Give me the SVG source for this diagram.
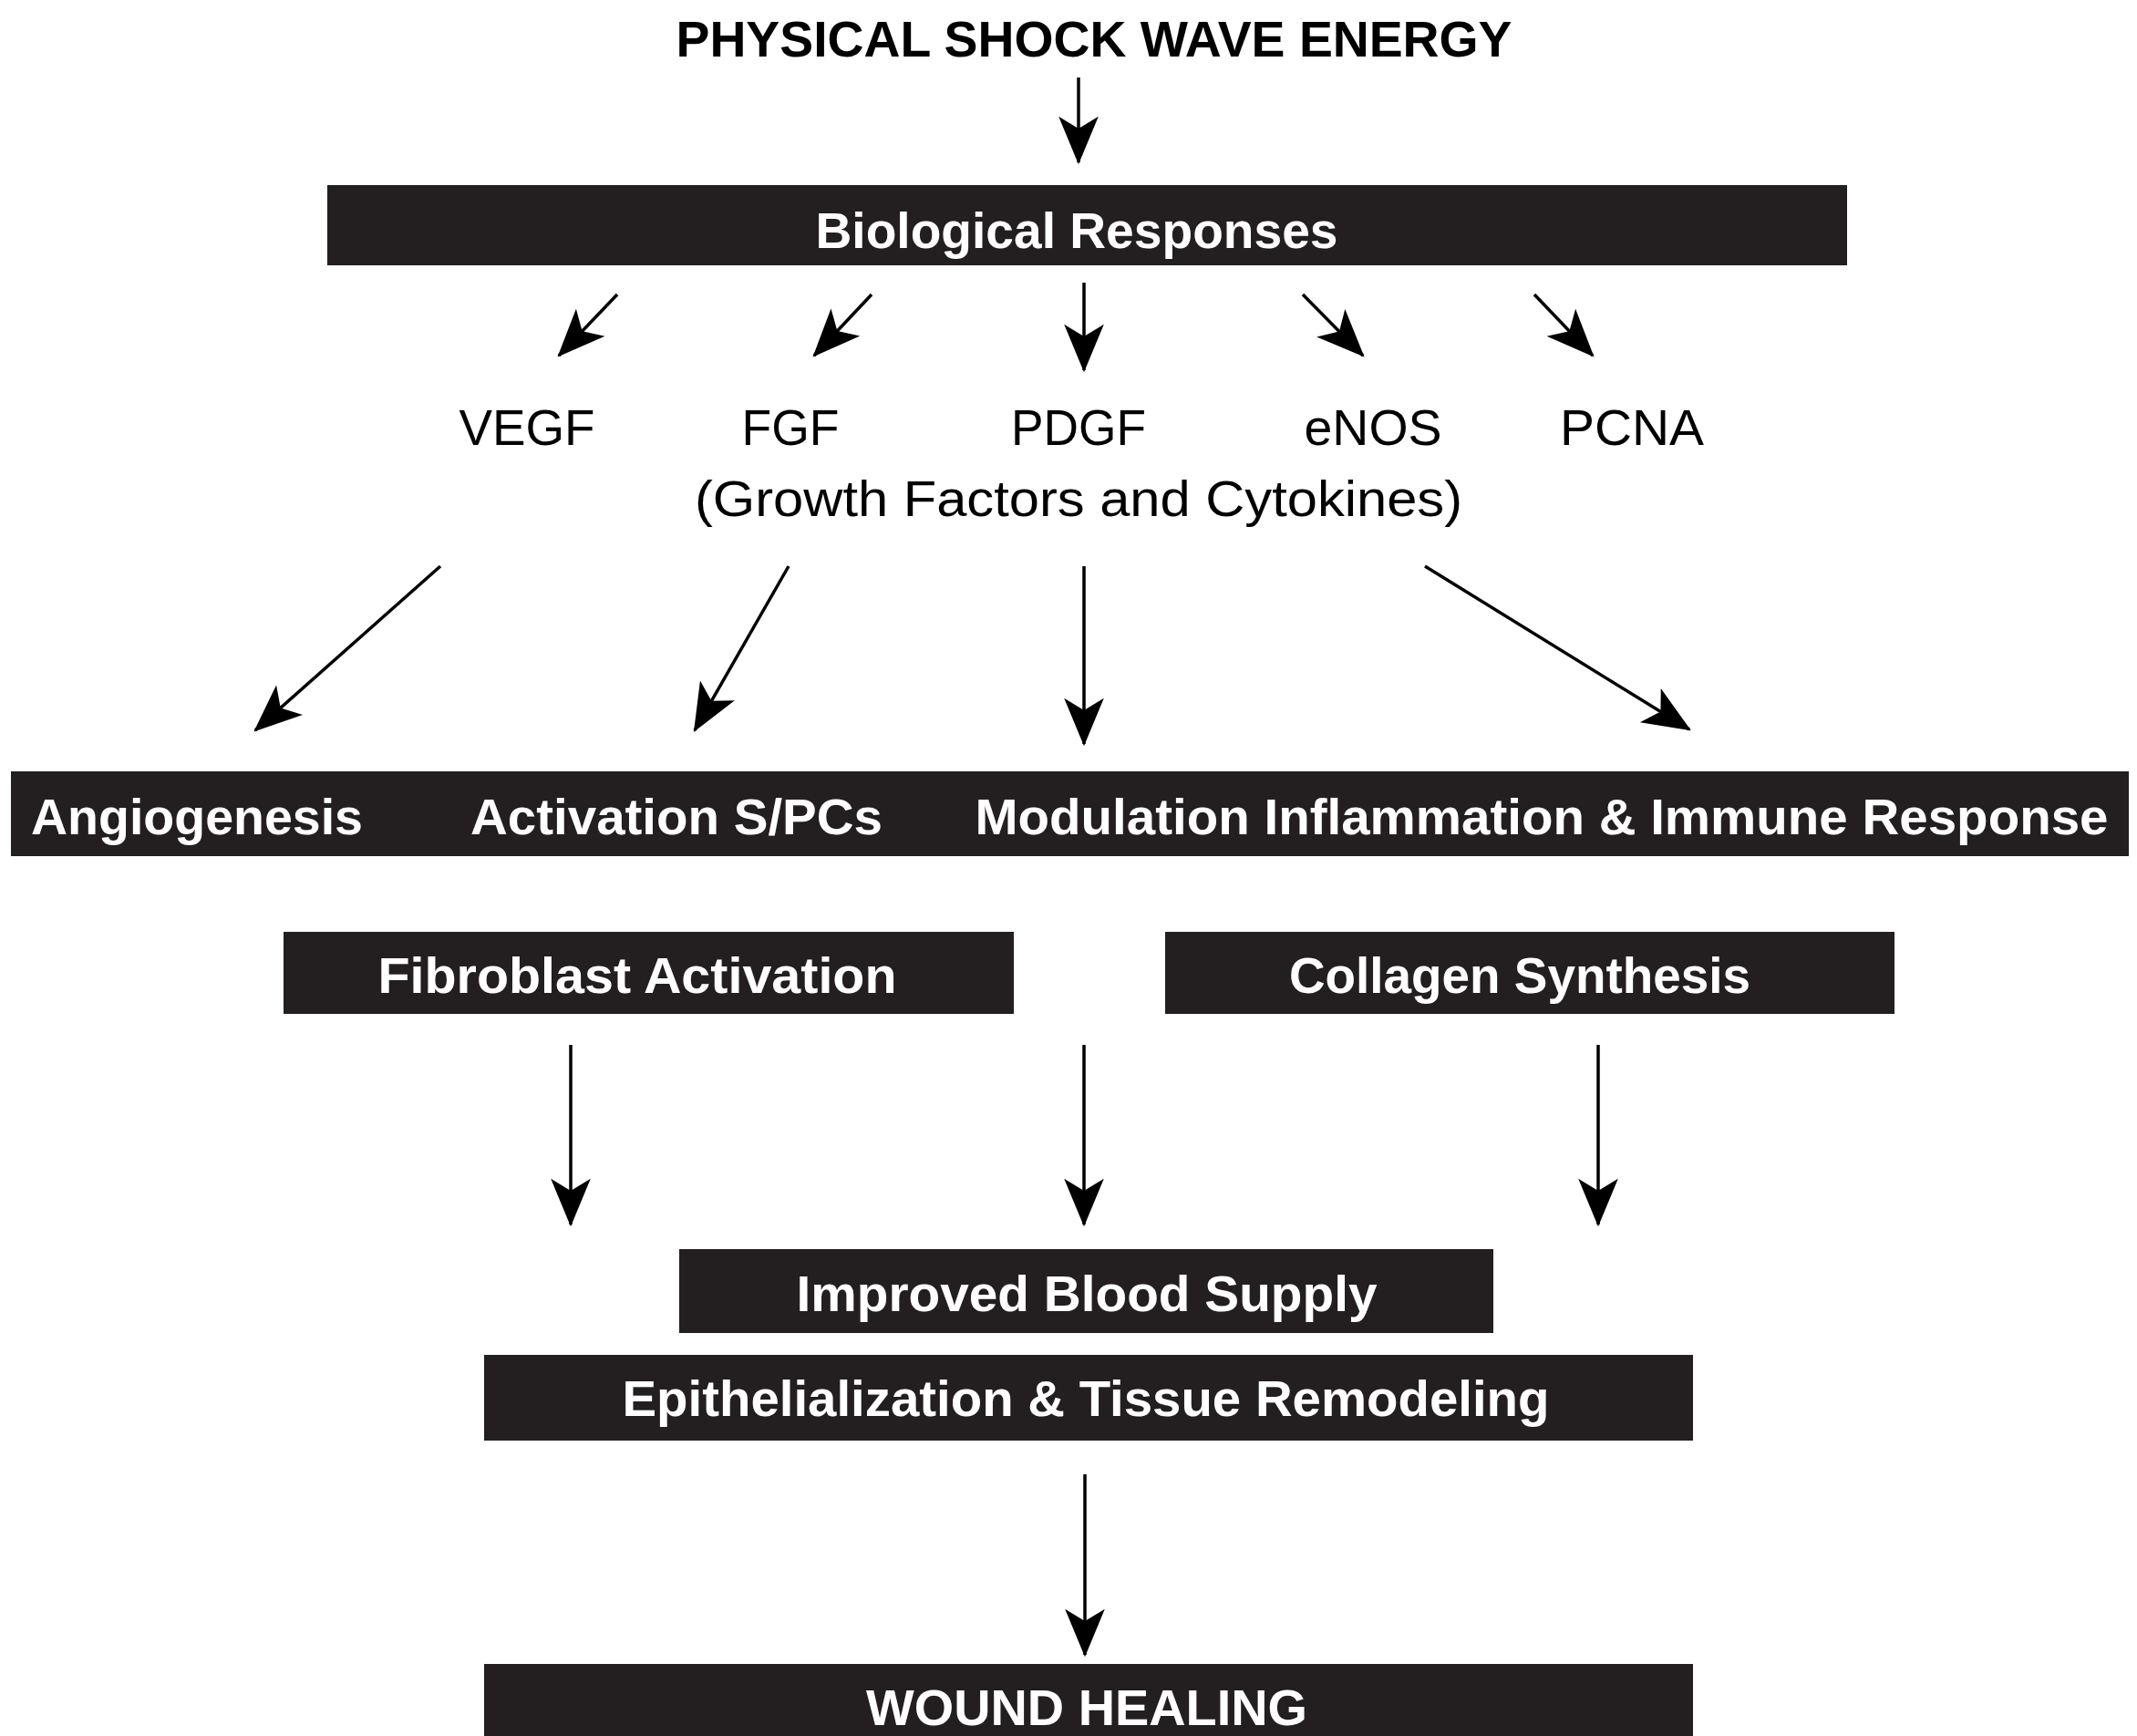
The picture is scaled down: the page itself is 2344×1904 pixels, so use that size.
<svg xmlns="http://www.w3.org/2000/svg" width="2344" height="1904" viewBox="0 0 2344 1904">
<style>
.box{fill:#231f20}
.bt{font-family:"Liberation Sans",Arial,sans-serif;font-weight:bold;font-size:56px;fill:#ffffff;text-anchor:middle}
.lt{font-family:"Liberation Sans",Arial,sans-serif;font-weight:normal;font-size:56px;fill:#000000;text-anchor:middle}
.title{font-family:"Liberation Sans",Arial,sans-serif;font-weight:bold;font-size:56px;fill:#000000;text-anchor:middle}
.conn line{stroke:#000;stroke-width:3.5;fill:none;marker-end:url(#ah)}
</style>
<defs>
<marker id="ah" markerUnits="userSpaceOnUse" orient="auto" markerWidth="60" markerHeight="60" refX="0" refY="0" viewBox="-50 -25 55 50" overflow="visible">
<path d="M2,0 L-46,-20 L-34,0 L-46,20 Z" fill="#000"/>
</marker>
</defs>
<rect width="2344" height="1904" fill="#ffffff"/>
<g id="title"><text class="title" x="1200" y="62" textLength="917" lengthAdjust="spacingAndGlyphs">PHYSICAL SHOCK WAVE ENERGY</text></g>
<g id="bio"><rect class="box" x="359" y="203" width="1667" height="88"/><text class="bt" x="1181" y="272" textLength="573" lengthAdjust="spacingAndGlyphs">Biological Responses</text></g>
<g id="vegf"><text class="lt" x="578" y="488" textLength="149" lengthAdjust="spacingAndGlyphs">VEGF</text></g>
<g id="fgf"><text class="lt" x="867" y="488" textLength="107" lengthAdjust="spacingAndGlyphs">FGF</text></g>
<g id="pdgf"><text class="lt" x="1183" y="488" textLength="148" lengthAdjust="spacingAndGlyphs">PDGF</text></g>
<g id="enos"><text class="lt" x="1506" y="488" textLength="151" lengthAdjust="spacingAndGlyphs">eNOS</text></g>
<g id="pcna"><text class="lt" x="1790" y="488" textLength="158" lengthAdjust="spacingAndGlyphs">PCNA</text></g>
<g id="growth"><text class="lt" x="1183" y="566" textLength="842" lengthAdjust="spacingAndGlyphs">(Growth Factors and Cytokines)</text></g>
<g id="row3"><rect class="box" x="12" y="846" width="2323" height="93"/>
<text class="bt" x="216" y="915" textLength="364" lengthAdjust="spacingAndGlyphs">Angiogenesis</text>
<text class="bt" x="742" y="915" textLength="452" lengthAdjust="spacingAndGlyphs">Activation S/PCs</text>
<text class="bt" x="1691" y="915" textLength="1243" lengthAdjust="spacingAndGlyphs">Modulation Inflammation &amp; Immune Response</text></g>
<g id="fibro"><rect class="box" x="311" y="1022" width="801" height="90"/><text class="bt" x="699" y="1089" textLength="569" lengthAdjust="spacingAndGlyphs">Fibroblast Activation</text></g>
<g id="collagen"><rect class="box" x="1278" y="1022" width="800" height="90"/><text class="bt" x="1667" y="1089" textLength="506" lengthAdjust="spacingAndGlyphs">Collagen Synthesis</text></g>
<g id="blood"><rect class="box" x="745" y="1370" width="893" height="92"/><text class="bt" x="1192" y="1438" textLength="637" lengthAdjust="spacingAndGlyphs">Improved Blood Supply</text></g>
<g id="epi"><rect class="box" x="531" y="1486" width="1326" height="94"/><text class="bt" x="1191" y="1553" textLength="1017" lengthAdjust="spacingAndGlyphs">Epithelialization &amp; Tissue Remodeling</text></g>
<g id="wound"><rect class="box" x="531" y="1825" width="1326" height="79"/><text class="bt" x="1192" y="1892" textLength="484" lengthAdjust="spacingAndGlyphs">WOUND HEALING</text></g>
<g id="connectors" class="conn">
<line x1="1183" y1="85" x2="1183" y2="178"/>
<line x1="677" y1="323" x2="613" y2="390"/>
<line x1="956" y1="323" x2="893" y2="390"/>
<line x1="1189" y1="310" x2="1189" y2="406"/>
<line x1="1429" y1="323" x2="1495" y2="390"/>
<line x1="1683" y1="323" x2="1747" y2="390"/>
<line x1="483" y1="621" x2="280" y2="801"/>
<line x1="865" y1="621" x2="762" y2="801"/>
<line x1="1189" y1="621" x2="1189" y2="816"/>
<line x1="1563" y1="621" x2="1853" y2="800"/>
<line x1="626" y1="1146" x2="626" y2="1343"/>
<line x1="1189" y1="1146" x2="1189" y2="1343"/>
<line x1="1753" y1="1146" x2="1753" y2="1343"/>
<line x1="1190" y1="1617" x2="1190" y2="1815"/>
</g>
</svg>
